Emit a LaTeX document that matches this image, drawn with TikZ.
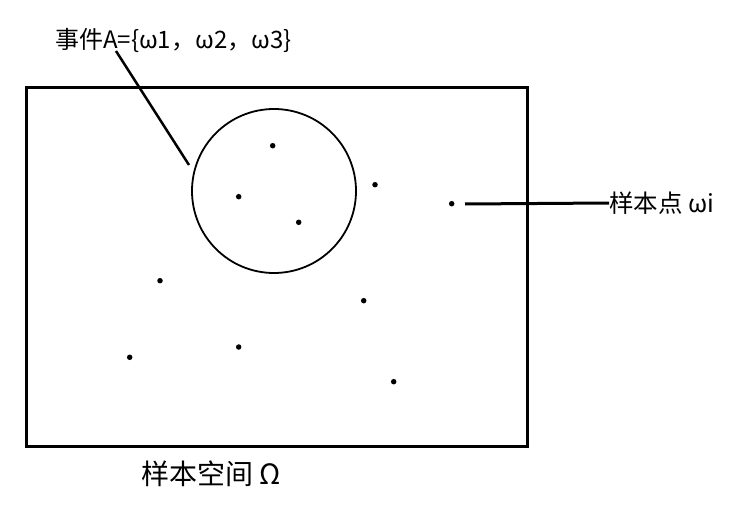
\documentclass[tikz,border=0pt]{standalone}
\usepackage{fontspec}
\setmainfont{Noto Sans CJK SC}
\begin{document}
\begin{tikzpicture}[x=1pt,y=-1pt,
  dot/.style={circle,fill=black,inner sep=0pt,minimum size=5.5pt},
  lbl/.style={inner sep=0pt,anchor=west,font=\fontsize{24}{28}\selectfont}]
\useasboundingbox (0,0) rectangle (733,505);
\draw[line width=3pt] (26,88) rectangle (527,446);
\node[circle,draw,line width=1.8pt,minimum size=164pt,inner sep=0pt] (A) at (274,191) {};
\foreach \n/\x/\y in {d1/272.7/145.7, d2/238.7/196.7, d3/298.7/222.3, d4/375/184.7,
  d5/451.7/203.7, d6/160/280.7, d7/363.7/300.7, d8/238.7/347, d9/129.7/357.3, d10/393.7/381.7}
  \node[dot] (\n) at (\x,\y) {};
\node[lbl] (tA) at (55,40) {事件A=\{ω1，ω2，ω3\}};
\node[lbl,font=\fontsize{24.5}{28}\selectfont] (tw) at (609,203) {样本点 ωi};
\node[lbl,anchor=center,font=\fontsize{28}{32}\selectfont] (tO) at (211,474) {样本空间 Ω};
\coordinate (a1) at (116,51);
\coordinate (a2) at (189,165);
\draw[line width=2.5pt] (a1) -- (a2);
\coordinate (b1) at (465,204);
\draw[line width=3pt] (b1) -- (tw.west);
\end{tikzpicture}
\end{document}
